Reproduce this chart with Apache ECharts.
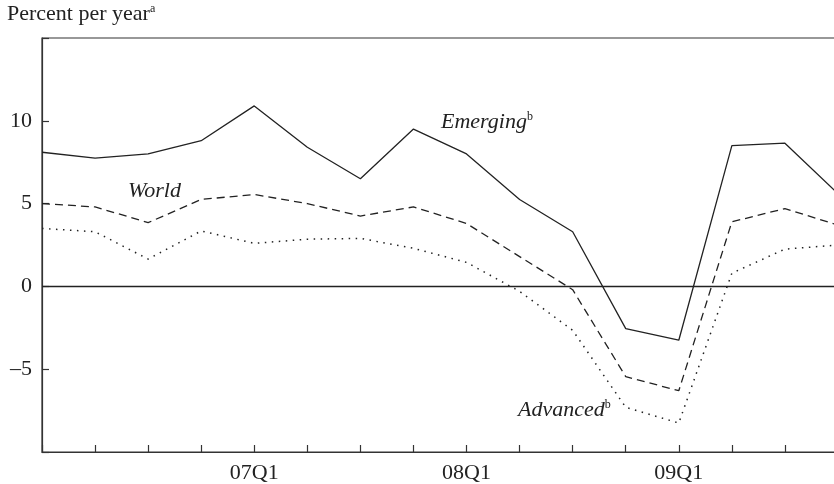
<!DOCTYPE html>
<html>
<head>
<meta charset="utf-8">
<script src="https://cdn.jsdelivr.net/npm/echarts@6/dist/echarts.min.js"></script>
<style>html,body{margin:0;padding:0;background:#fff}#c{width:834px;height:484px}</style>
</head>
<body>
<div id="c"></div>
<script>
const quarters = ['06Q1','06Q2','06Q3','06Q4','07Q1','07Q2','07Q3','07Q4','08Q1','08Q2','08Q3','08Q4','09Q1','09Q2','09Q3','09Q4'];
const tickLabels = ['07Q1','08Q1','09Q1'];
const emerging = [8.1, 7.75, 8.0, 8.8, 10.9, 8.4, 6.5, 9.5, 8.0, 5.25, 3.3, -2.55, -3.25, 8.5, 8.65, 5.6];
const world    = [5.0, 4.8, 3.85, 5.25, 5.55, 5.0, 4.25, 4.8, 3.8, 1.8, -0.2, -5.45, -6.3, 3.9, 4.7, 3.7];
const advanced = [3.5, 3.3, 1.65, 3.35, 2.6, 2.85, 2.9, 2.3, 1.45, -0.3, -2.65, -7.3, -8.25, 0.8, 2.25, 2.5];
const yTicks = [-5, 0, 5, 10];

const FONT = '"Liberation Serif", "DejaVu Serif", serif';
const INK = '#222';

const chart = echarts.init(document.getElementById('c'), null, {renderer: 'canvas'});
const base = {type: 'line', symbol: 'none', smooth: false, silent: true};
chart.setOption({
  animation: false,
  backgroundColor: '#fff',
  grid: {left: 42, top: 38, bottom: 32, right: -4, containLabel: false, outerBoundsMode: 'none',
    show: true, borderColor: '#333', borderWidth: 1.2, backgroundColor: 'transparent'},
  xAxis: {
    type: 'category', data: quarters, boundaryGap: false,
    axisLine: {onZero: false, lineStyle: {color: '#333', width: 1.2}},
    axisTick: {inside: true, length: 7, interval: 0, lineStyle: {color: '#333', width: 1.2}},
    axisLabel: {interval: 0, margin: 10, color: INK, fontFamily: FONT, fontSize: 22,
      formatter: v => tickLabels.includes(v) ? v : ''},
    splitLine: {show: false}
  },
  yAxis: {
    type: 'value', min: -10, max: 15, interval: 5,
    axisLine: {show: true, onZero: false, lineStyle: {color: '#333', width: 1.2}},
    axisTick: {show: true, inside: true, length: 7, lineStyle: {color: '#333', width: 1.2}},
    axisLabel: {margin: 10, color: INK, fontFamily: FONT, fontSize: 22,
      formatter: v => yTicks.includes(v) ? (v < 0 ? '\u2013' + Math.abs(v) : String(v)) : ''},
    splitLine: {show: false}
  },
  series: [
    Object.assign({}, base, {name: 'Emerging', data: emerging, lineStyle: {color: INK, width: 1.3, type: 'solid'},
      markLine: {silent: true, symbol: 'none', label: {show: false}, lineStyle: {color: INK, width: 1.3, type: 'solid'}, data: [{yAxis: 0}]}}),
    Object.assign({}, base, {name: 'World', data: world, lineStyle: {color: INK, width: 1.3, type: [8, 5]}}),
    Object.assign({}, base, {name: 'Advanced', data: advanced, lineStyle: {color: INK, width: 1.5, type: [1.5, 5.5]}})
  ],
  graphic: [
    {type: 'text', left: 7, top: 3, style: {text: '{t|Percent per year}{s|a}', rich: {
      t: {fontFamily: FONT, fontSize: 22, fill: INK, verticalAlign: 'bottom'},
      s: {fontFamily: FONT, fontSize: 12, fill: INK, verticalAlign: 'top'}}}},
    {type: 'text', x: 441, y: 122, style: {text: '{t|Emerging}{s|b}', verticalAlign: 'middle', rich: {
      t: {fontFamily: FONT, fontSize: 22, fontStyle: 'italic', fill: INK},
      s: {fontFamily: FONT, fontSize: 12, fill: INK, verticalAlign: 'top'}}}},
    {type: 'text', x: 128, y: 191.5, style: {text: 'World', verticalAlign: 'middle', font: 'italic 22px ' + FONT, fill: INK}},
    {type: 'text', x: 518, y: 410, style: {text: '{t|Advanced}{s|b}', verticalAlign: 'middle', rich: {
      t: {fontFamily: FONT, fontSize: 22, fontStyle: 'italic', fill: INK},
      s: {fontFamily: FONT, fontSize: 12, fill: INK, verticalAlign: 'top'}}}}
  ]
});
</script>
</body>
</html>
